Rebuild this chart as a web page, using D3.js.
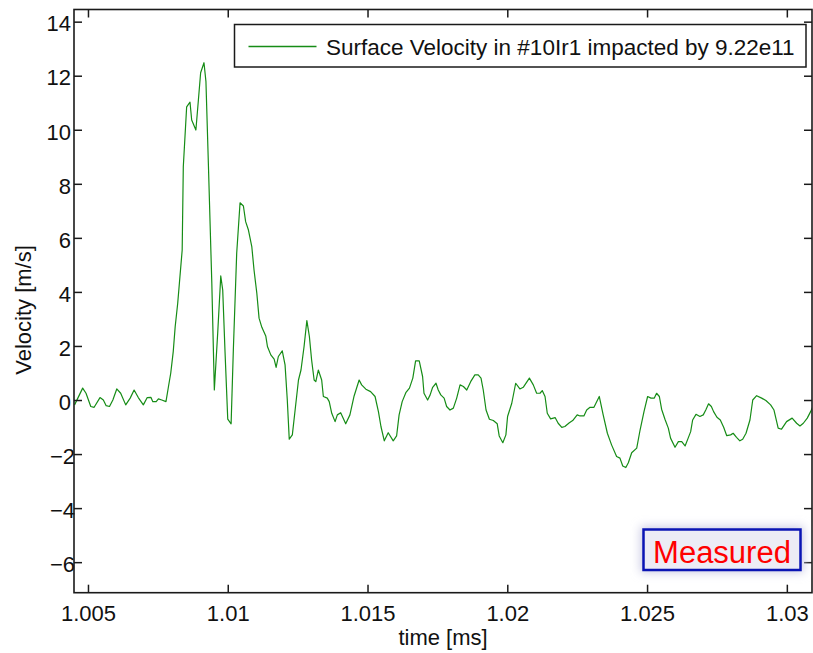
<!DOCTYPE html>
<html>
<head>
<meta charset="utf-8">
<script src="https://cdn.jsdelivr.net/npm/d3@7"></script>
<style>
  body { margin: 0; background: #fff; }
  svg { display: block; font-family: "Liberation Sans", Arial, sans-serif; }
</style>
</head>
<body>
<svg id="chart" width="813" height="653"></svg>
<script>
// time axis in ms, velocity in m/s
const timeMs = [
  1.00452, 1.00481, 1.00493, 1.00510, 1.00522, 1.00543, 1.00555, 1.00565, 1.00577, 1.00589,
  1.00603, 1.00617, 1.00635, 1.00651, 1.00665, 1.00680, 1.00698, 1.00712, 1.00725, 1.00732,
  1.00744, 1.00752, 1.00764, 1.00779, 1.00788, 1.00796, 1.00805, 1.00812, 1.00821, 1.00827,
  1.00837, 1.00841, 1.00853, 1.00865, 1.00871, 1.00886, 1.00895, 1.00903, 1.00915, 1.00922,
  1.00931, 1.00943, 1.00952, 1.00964, 1.00975, 1.00982, 1.00990, 1.01000, 1.01012, 1.01020,
  1.01032, 1.01044, 1.01056, 1.01064, 1.01074, 1.01086, 1.01094, 1.01104, 1.01112, 1.01122,
  1.01136, 1.01142, 1.01154, 1.01166, 1.01173, 1.01181, 1.01195, 1.01205, 1.01213, 1.01220,
  1.01231, 1.01241, 1.01253, 1.01262, 1.01273, 1.01283, 1.01292, 1.01300, 1.01309, 1.01315,
  1.01324, 1.01336, 1.01342, 1.01356, 1.01363, 1.01372, 1.01384, 1.01392, 1.01404, 1.01422,
  1.01437, 1.01452, 1.01470, 1.01479, 1.01494, 1.01511, 1.01527, 1.01539, 1.01548, 1.01560,
  1.01574, 1.01592, 1.01604, 1.01613, 1.01624, 1.01637, 1.01650, 1.01662, 1.01672, 1.01685,
  1.01697, 1.01702, 1.01715, 1.01724, 1.01733, 1.01745, 1.01753, 1.01762, 1.01774, 1.01783,
  1.01795, 1.01807, 1.01819, 1.01831, 1.01843, 1.01855, 1.01869, 1.01884, 1.01896, 1.01906,
  1.01914, 1.01924, 1.01936, 1.01950, 1.01964, 1.01971, 1.01984, 1.01995, 1.02001, 1.02016,
  1.02030, 1.02045, 1.02057, 1.02079, 1.02093, 1.02105, 1.02117, 1.02125, 1.02135, 1.02143,
  1.02155, 1.02171, 1.02182, 1.02195, 1.02206, 1.02222, 1.02234, 1.02250, 1.02260, 1.02274,
  1.02284, 1.02296, 1.02310, 1.02329, 1.02343, 1.02358, 1.02373, 1.02391, 1.02403, 1.02413,
  1.02424, 1.02433, 1.02445, 1.02463, 1.02475, 1.02489, 1.02502, 1.02514, 1.02526, 1.02534,
  1.02544, 1.02552, 1.02564, 1.02576, 1.02584, 1.02600, 1.02612, 1.02624, 1.02636, 1.02647,
  1.02656, 1.02663, 1.02675, 1.02689, 1.02701, 1.02710, 1.02720, 1.02730, 1.02738, 1.02750,
  1.02762, 1.02774, 1.02785, 1.02799, 1.02808, 1.02820, 1.02832, 1.02842, 1.02854, 1.02868,
  1.02878, 1.02892, 1.02910, 1.02925, 1.02942, 1.02954, 1.02969, 1.02981, 1.02999, 1.03019,
  1.03035, 1.03047, 1.03059, 1.03073, 1.03085, 1.03093
];

const velocity = [
  -0.18, 0.44, 0.25, -0.24, -0.27, 0.09, 0.00, -0.21, -0.24, 0.00,
  0.41, 0.25, -0.18, 0.07, 0.37, 0.09, -0.18, 0.09, 0.10, -0.06,
  -0.06, 0.04, 0.00, -0.06, 0.50, 0.99, 1.79, 2.72, 3.58, 4.32,
  5.55, 8.63, 10.85, 11.02, 10.36, 9.99, 11.10, 12.11, 12.48, 11.78,
  8.63, 4.32, 0.37, 2.47, 4.59, 4.07, 1.85, -0.71, -0.88, 1.85,
  5.43, 7.30, 7.18, 6.60, 6.29, 5.68, 4.81, 3.95, 3.03, 2.69,
  2.37, 1.98, 1.67, 1.51, 1.21, 1.61, 1.82, 1.30, 0.00, -1.45,
  -1.29, -0.37, 0.74, 1.11, 1.98, 2.94, 2.35, 1.48, 0.74, 0.68,
  1.11, 0.74, 0.13, 0.07, -0.06, -0.49, -0.80, -0.55, -0.47, -0.88,
  -0.55, 0.15, 0.74, 0.56, 0.40, 0.31, 0.13, -0.43, -0.98, -1.51,
  -1.21, -1.51, -1.33, -0.55, -0.06, 0.27, 0.44, 0.81, 1.45, 1.45,
  0.87, 0.25, 0.00, 0.19, 0.47, 0.62, 0.37, 0.19, 0.07, -0.24,
  -0.37, -0.30, 0.07, 0.56, 0.50, 0.37, 0.68, 0.93, 0.93, 0.81,
  0.37, -0.37, -0.71, -0.76, -0.88, -1.33, -1.58, -1.29, -0.61, -0.12,
  0.62, 0.41, 0.47, 0.81, 0.56, 0.25, 0.25, 0.35, 0.13, -0.49,
  -0.70, -0.65, -0.86, -1.01, -0.98, -0.84, -0.76, -0.55, -0.59, -0.59,
  -0.37, -0.27, -0.27, 0.13, -0.55, -1.23, -1.66, -2.09, -2.15, -2.44,
  -2.50, -2.32, -1.95, -1.78, -1.11, -0.43, 0.13, 0.07, 0.07, 0.25,
  0.13, -0.34, -0.71, -1.04, -1.41, -1.75, -1.54, -1.54, -1.70, -1.41,
  -1.17, -0.74, -0.53, -0.61, -0.55, -0.37, -0.14, -0.24, -0.43, -0.64,
  -0.74, -1.01, -1.32, -1.29, -1.23, -1.38, -1.51, -1.45, -1.23, -0.74,
  0.00, 0.16, 0.07, -0.02, -0.18, -0.37, -1.04, -1.08, -0.80, -0.67,
  -0.86, -0.96, -0.86, -0.67, -0.43, -0.24
];

const xTicks = [1.005, 1.01, 1.015, 1.02, 1.025, 1.03];
const xTickLabels = ['1.005', '1.01', '1.015', '1.02', '1.025', '1.03'];
const yTicks = [-6, -4, -2, 0, 2, 4, 6, 8, 10, 12, 14];
const xDomain = [1.0045, 1.0309];
const yDomain = [-7.13, 14.45];

const seriesLabel = 'Surface Velocity in #10Ir1 impacted by 9.22e11';
const xTitle = 'time [ms]';
const yTitle = 'Velocity [m/s]';
const stampText = 'Measured';

class VelocityChart {
  constructor(_config) {
    this.config = {
      selection: _config.selection,
      width: _config.width || 813,
      height: _config.height || 653,
      margin: _config.margin || { top: 9.5, right: 1, bottom: 60.3, left: 74 }
    };
    this.data = _config.data;
  }

  render() {
    let vis = this;
    const m = vis.config.margin;
    const w = vis.config.width - m.left - m.right;
    const h = vis.config.height - m.top - m.bottom;
    const axisColour = '#1a1a1a';
    const lineColour = '#168c16';

    vis.svg = d3.select(vis.config.selection);

    vis.x = d3.scaleLinear().domain(xDomain).range([0, w]);
    vis.y = d3.scaleLinear().domain(yDomain).range([h, 0]);

    vis.g = vis.svg.append('g')
      .attr('transform', `translate(${m.left},${m.top})`);

    vis.svg.append('defs').append('clipPath')
      .attr('id', 'plot-clip')
      .append('rect')
      .attr('width', w)
      .attr('height', h);

    // trace
    const pts = vis.data.map((d, i) => [timeMs[i], velocity[i]]);
    vis.g.append('path')
      .datum(pts)
      .attr('clip-path', 'url(#plot-clip)')
      .attr('d', d3.line().x(d => vis.x(d[0])).y(d => vis.y(d[1])))
      .attr('fill', 'none')
      .attr('stroke', lineColour)
      .attr('stroke-width', 1.2)
      .attr('stroke-linejoin', 'round');

    // axes, ticks pointing inward
    const tickLen = 8;
    const fmtY = d => d < 0 ? '\u2212' + Math.abs(d) : String(d);

    const bottom = vis.g.append('g')
      .attr('transform', `translate(0,${h})`)
      .call(d3.axisBottom(vis.x).tickValues(xTicks)
        .tickFormat((d, i) => xTickLabels[i])
        .tickSizeInner(-tickLen).tickSizeOuter(0).tickPadding(12.7));
    vis.g.append('g')
      .call(d3.axisTop(vis.x).tickValues(xTicks).tickFormat('')
        .tickSizeInner(-tickLen).tickSizeOuter(0));
    const left = vis.g.append('g')
      .call(d3.axisLeft(vis.y).tickValues(yTicks).tickFormat(fmtY)
        .tickSizeInner(-tickLen).tickSizeOuter(0).tickPadding(3));
    vis.g.append('g')
      .attr('transform', `translate(${w},0)`)
      .call(d3.axisRight(vis.y).tickValues(yTicks).tickFormat('')
        .tickSizeInner(-tickLen).tickSizeOuter(0));

    vis.g.selectAll('.domain').remove();
    vis.g.selectAll('.tick line')
      .attr('stroke', axisColour)
      .attr('stroke-width', 1.5);
    vis.g.selectAll('.tick text')
      .attr('fill', '#111')
      .style('font-size', '22px')
      .style('font-family', '"Liberation Sans", Arial, sans-serif');
    left.selectAll('.tick text')
      .attr('dy', '0.42em')
      .attr('x', d => d < 0 ? 1 : -3);

    vis.g.append('rect')
      .attr('width', w)
      .attr('height', h)
      .attr('fill', 'none')
      .attr('stroke', axisColour)
      .attr('stroke-width', 1.6);

    // axis titles
    vis.svg.append('text')
      .attr('x', m.left + w / 2)
      .attr('y', 645)
      .attr('text-anchor', 'middle')
      .attr('fill', '#111')
      .style('font-size', '22px')
      .text(xTitle);
    vis.svg.append('text')
      .attr('transform', 'translate(31,310) rotate(-90)')
      .attr('text-anchor', 'middle')
      .attr('fill', '#111')
      .style('font-size', '22px')
      .text(yTitle);

    // legend
    const legend = vis.svg.append('g').attr('transform', 'translate(234.5,24.5)');
    legend.append('rect')
      .attr('width', 571.5)
      .attr('height', 42.5)
      .attr('fill', '#fff')
      .attr('stroke', axisColour)
      .attr('stroke-width', 1.5);
    legend.append('line')
      .attr('x1', 14).attr('x2', 82)
      .attr('y1', 22).attr('y2', 22)
      .attr('stroke', lineColour)
      .attr('stroke-width', 1.5);
    legend.append('text')
      .attr('x', 91.5)
      .attr('y', 30)
      .attr('fill', '#111')
      .style('font-size', '22.5px')
      .text(seriesLabel);

    // "Measured" stamp with a soft glow
    const blur = vis.svg.select('defs').append('filter')
      .attr('id', 'glow')
      .attr('x', '-30%').attr('y', '-60%')
      .attr('width', '160%').attr('height', '220%');
    blur.append('feGaussianBlur').attr('stdDeviation', 5);

    const stamp = vis.svg.append('g').attr('transform', 'translate(643.5,529.5)');
    stamp.append('rect')
      .attr('x', -3).attr('y', -3)
      .attr('width', 163).attr('height', 46)
      .attr('fill', '#c9c9e4')
      .attr('filter', 'url(#glow)');
    stamp.append('rect')
      .attr('width', 157)
      .attr('height', 40.5)
      .attr('fill', '#ececf5')
      .attr('stroke', '#0a14b4')
      .attr('stroke-width', 2.5);
    stamp.append('text')
      .attr('x', 78.5)
      .attr('y', 33)
      .attr('text-anchor', 'middle')
      .attr('fill', '#ff0000')
      .style('font-size', '31px')
      .text(stampText);
  }
}

const chart = new VelocityChart({ selection: '#chart', data: timeMs });
chart.render();
</script>
</body>
</html>
